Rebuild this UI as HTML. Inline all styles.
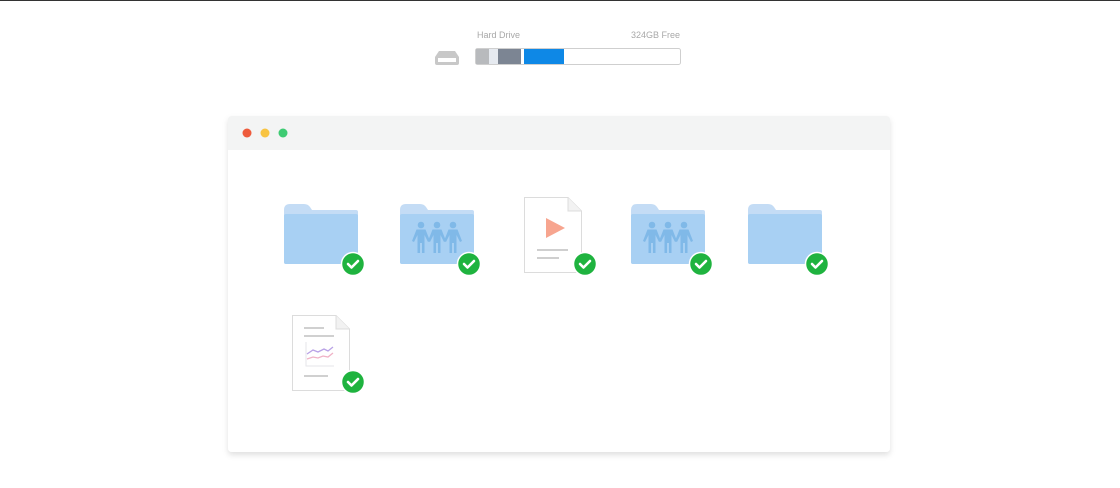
<!DOCTYPE html>
<html><head><style>
html,body{margin:0;padding:0;background:#fff;width:1120px;height:488px;overflow:hidden;font-family:"Liberation Sans",sans-serif}
</style></head><body>
<svg width="1120" height="488" viewBox="0 0 1120 488" xmlns="http://www.w3.org/2000/svg">
<defs>
<filter id="sh" x="-5%" y="-5%" width="110%" height="115%"><feDropShadow dx="0" dy="3" stdDeviation="3" flood-color="#000" flood-opacity="0.12"/></filter>
<g id="folder">
<path d="M0,6 Q0,0 6,0 H20 Q24,0 26,3 L28,6 H72 Q74,6 74,8 V58 Q74,60 72,60 H2 Q0,60 0,58 Z" fill="#c4dcf5"/>
<rect x="0" y="10" width="74" height="50" rx="2" fill="#a8d0f3"/>
</g>
<g id="people" fill="#80b9e8">
<g id="p"><circle cx="0" cy="0" r="3.3"/><path d="M-4.5,4.5 H4.5 L9,16 L7,17 L3.5,10 V28 H1 V18 H-1 V28 H-3.5 V10 L-7,17 L-9,16 Z"/></g>
<use href="#p" x="16"/><use href="#p" x="32"/>
</g>
<g id="check"><circle cx="0" cy="0" r="11.5" fill="#1fb33f"/><circle cx="0" cy="0" r="11.5" fill="none" stroke="#fff" stroke-width="1.5"/><path d="M-5,0 L-1.5,3.5 L5,-3" fill="none" stroke="#fff" stroke-width="2.6" stroke-linecap="round" stroke-linejoin="round"/></g>
<g id="doc"><path d="M0.5,0.5 H44 L57.5,14 V75.5 H0.5 Z" fill="#fff" stroke="#dcdcdc"/><path d="M44,0.5 V14 H57.5" fill="#f2f2f2" stroke="#dcdcdc"/></g>
</defs>
<line x1="0" y1="0.5" x2="1120" y2="0.5" stroke="#333" stroke-width="1"/>
<text x="477" y="38" font-size="9" fill="#a8a8a8">Hard Drive</text>
<text x="680" y="38" font-size="9" fill="#a8a8a8" text-anchor="end">324GB Free</text>
<path d="M439,51 H455 L459,57 V63 Q459,65 457,65 H437 Q435,65 435,63 V57 Z" fill="#c8c8c8"/>
<rect x="438" y="58" width="18" height="4" fill="#fff"/>
<rect x="475.5" y="48.5" width="205" height="16" rx="2" fill="#fff" stroke="#cfcfcf"/>
<rect x="476" y="49" width="13" height="15" fill="#b8babd"/>
<rect x="489" y="49" width="9" height="15" fill="#e6eaf0"/>
<rect x="498" y="49" width="23" height="15" fill="#7c8593"/>
<rect x="524" y="49" width="40" height="15" fill="#0e88e6"/>
<g filter="url(#sh)"><rect x="228" y="116" width="662" height="336" rx="4" fill="#fff"/></g>
<path d="M232,116 H886 Q890,116 890,120 V150 H228 V120 Q228,116 232,116 Z" fill="#f3f4f4"/>
<circle cx="247" cy="133" r="4.5" fill="#ee5b3c"/>
<circle cx="265" cy="133" r="4.5" fill="#f8c442"/>
<circle cx="283" cy="133" r="4.5" fill="#3ecb73"/>
<use href="#folder" x="284" y="204"/><use href="#check" x="353" y="264"/>
<use href="#folder" x="400" y="204"/><use href="#people" x="421" y="225"/><use href="#check" x="469" y="264"/>
<use href="#doc" x="524" y="197"/>
<path d="M546,218 L565,228 L546,238 Z" fill="#f7a58f"/>
<rect x="537" y="249" width="31" height="2" fill="#cfcfcf"/><rect x="537" y="257" width="22" height="2" fill="#cfcfcf"/>
<use href="#check" x="585" y="264"/>
<use href="#folder" x="631" y="204"/><use href="#people" x="652" y="225"/><use href="#check" x="701" y="264"/>
<use href="#folder" x="748" y="204"/><use href="#check" x="817" y="264"/>
<use href="#doc" x="292" y="315"/>
<rect x="304" y="327" width="20" height="2" fill="#d0d0d0"/><rect x="304" y="335" width="30" height="2" fill="#d0d0d0"/>
<path d="M306,342 V366 H334" fill="none" stroke="#e6e6ea" stroke-width="1"/>
<path d="M307,354 L313,350 L318,352 L324,349 L328,351 L333,347" fill="none" stroke="#b9a2e6" stroke-width="1.3"/>
<path d="M307,359 L313,357 L318,358 L323,356 L328,357 L333,353" fill="none" stroke="#f0b2c6" stroke-width="1.3"/>
<rect x="304" y="375" width="24" height="2" fill="#d0d0d0"/>
<use href="#check" x="353" y="382"/>
</svg>
</body></html>
